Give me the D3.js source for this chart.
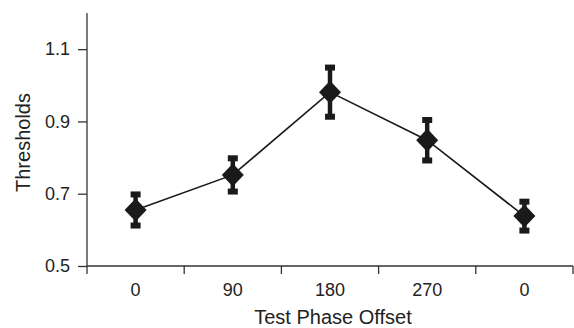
<!DOCTYPE html>
<html>
<head>
<meta charset="utf-8">
<script src="https://cdn.jsdelivr.net/npm/d3@7"></script>
<style>
  body { margin: 0; background: #fff; }
  svg text { font-family: "Liberation Sans", Arial, sans-serif; fill: #222; }
</style>
</head>
<body>
<svg id="chart" width="574" height="328"></svg>
<script>
// data
var categories = ["0", "90", "180", "270", "0 "];
var thresholds = [0.655, 0.752, 0.981, 0.848, 0.638];
var errors = [0.043, 0.046, 0.068, 0.056, 0.040];
var yTicks = [0.5, 0.7, 0.9, 1.1];

var svg = d3.select("#chart");
var margin = {top: 13, right: 1, bottom: 62, left: 87};
var width = 574 - margin.left - margin.right;
var height = 328 - margin.top - margin.bottom;

var g = svg.append("g")
    .attr("transform", "translate(" + margin.left + "," + margin.top + ")");

var x = d3.scaleBand().domain(categories).range([0, width]);
var y = d3.scaleLinear().domain([0.5, 1.2]).range([height, 0]);

// x axis with ticks at the band edges
var xAxis = g.append("g").attr("transform", "translate(0," + height + ")");
xAxis.append("line").attr("x1", 0).attr("x2", width).attr("stroke", "#333").attr("stroke-width", 1.3);
var edges = categories.map(function (c) { return x(c); }).concat([width]);
xAxis.selectAll(".tk").data(edges).enter().append("line")
    .attr("x1", function (d) { return d; }).attr("x2", function (d) { return d; })
    .attr("y1", 0).attr("y2", 8).attr("stroke", "#333").attr("stroke-width", 1.3);
xAxis.selectAll("text").data(categories).enter().append("text")
    .attr("x", function (d) { return x(d) + x.bandwidth() / 2; })
    .attr("y", 30).attr("text-anchor", "middle").attr("font-size", 18)
    .text(function (d) { return d.trim(); });

// y axis
var yAxis = g.append("g")
    .call(d3.axisLeft(y).tickValues(yTicks).tickSize(9).tickPadding(8).tickFormat(d3.format(".1f")));
yAxis.select(".domain").attr("stroke", "#333").attr("stroke-width", 1.3).attr("d", "M0," + height + "V0");
yAxis.selectAll(".tick line").attr("stroke", "#333").attr("stroke-width", 1.3);
yAxis.selectAll(".tick text").attr("font-size", 18).attr("fill", "#222")
    .attr("font-family", "Liberation Sans, Arial, sans-serif");

// axis titles
svg.append("text").attr("x", margin.left + width / 2 + 3).attr("y", 324)
    .attr("text-anchor", "middle").attr("font-size", 20).text("Test Phase Offset");
svg.append("text").attr("transform", "translate(30," + (margin.top + height / 2 + 3) + ") rotate(-90)")
    .attr("text-anchor", "middle").attr("font-size", 20).text("Thresholds");

var pts = categories.map(function (c, i) {
  return {cx: x(c) + x.bandwidth() / 2, v: thresholds[i], e: errors[i]};
});

// connecting line
g.append("path").datum(pts)
    .attr("fill", "none").attr("stroke", "#1a1a1a").attr("stroke-width", 1.6)
    .attr("d", d3.line().x(function (d) { return d.cx; }).y(function (d) { return y(d.v); }));

// error bars
var eb = g.selectAll(".eb").data(pts).enter().append("g");
eb.append("line")
    .attr("x1", function (d) { return d.cx; }).attr("x2", function (d) { return d.cx; })
    .attr("y1", function (d) { return y(d.v + d.e); }).attr("y2", function (d) { return y(d.v - d.e); })
    .attr("stroke", "#1a1a1a").attr("stroke-width", 4.5);
eb.selectAll("rect").data(function (d) { return [[d.cx, d.v + d.e], [d.cx, d.v - d.e]]; })
    .enter().append("rect")
    .attr("x", function (d) { return d[0] - 5; }).attr("y", function (d) { return y(d[1]) - 3; })
    .attr("width", 10).attr("height", 6).attr("fill", "#1a1a1a");

// diamond markers
g.selectAll(".mk").data(pts).enter().append("path")
    .attr("transform", function (d) { return "translate(" + d.cx + "," + y(d.v) + ")"; })
    .attr("d", "M0,-11.5L11,0L0,11.5L-11,0Z")
    .attr("fill", "#1a1a1a");
</script>
</body>
</html>
